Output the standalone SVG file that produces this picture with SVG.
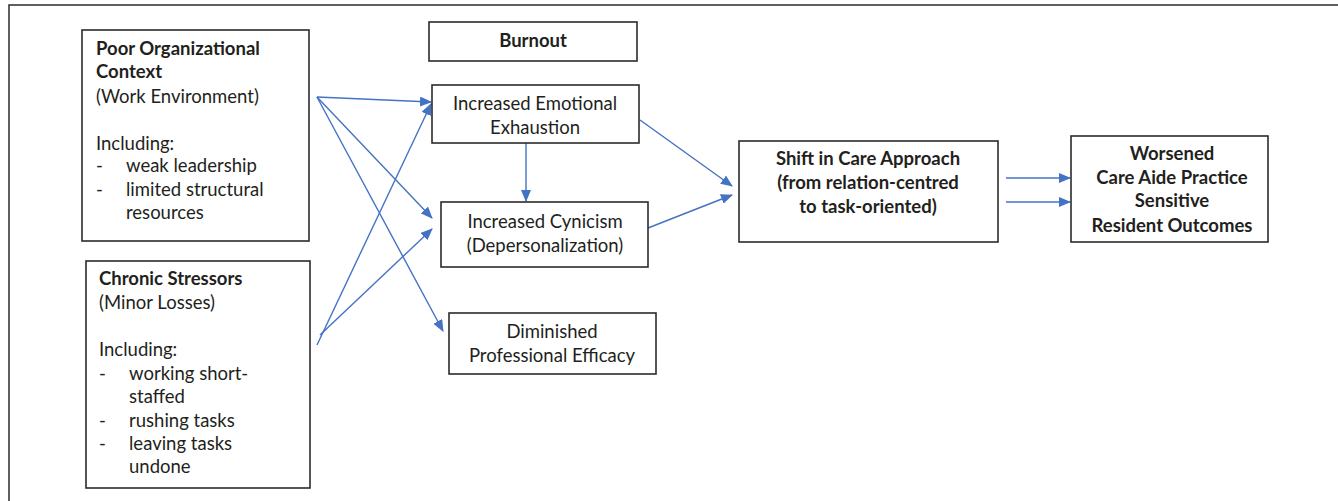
<svg xmlns="http://www.w3.org/2000/svg" width="1338" height="501" viewBox="0 0 1338 501">
<defs>
<marker id="ah" markerWidth="12" markerHeight="10" refX="11" refY="5" orient="auto" markerUnits="userSpaceOnUse">
<path d="M0,0 L12,5 L0,10 z" fill="#4472C4"/>
</marker>
<style>
.box{fill:#fff;stroke:#2b2b2b;stroke-width:1.6}
.t{font-family:Lato,"Open Sans","Liberation Sans",sans-serif;font-size:18.5px;fill:#231f20}
.b{font-weight:bold}
.c{text-anchor:middle}
.ln{stroke:#4472C4;stroke-width:1.4;fill:none}
.a{marker-end:url(#ah)}
</style>
</defs>
<rect width="1338" height="501" fill="#fff"/>
<path d="M9,501 V5 H1338" fill="none" stroke="#2b2b2b" stroke-width="1.5"/>

<g id="connectors">
<line class="ln a" x1="317" y1="97" x2="431" y2="102"/>
<line class="ln a" x1="317" y1="97" x2="432" y2="218"/>
<line class="ln a" x1="317" y1="97" x2="443" y2="331"/>
<line class="ln a" x1="317" y1="345" x2="431" y2="104"/>
<line class="ln a" x1="320" y1="335" x2="432" y2="229"/>
<line class="ln a" x1="526" y1="143" x2="526" y2="201"/>
<line class="ln a" x1="640" y1="120" x2="732" y2="186"/>
<line class="ln a" x1="648" y1="228" x2="732" y2="195"/>
<line class="ln a" x1="1006" y1="178" x2="1070" y2="178"/>
<line class="ln a" x1="1006" y1="202" x2="1070" y2="202"/>
</g>

<g id="poor-org">
<rect class="box" x="82" y="30" width="227" height="211"/>
<text class="t b" x="96" y="55">Poor Organizational</text>
<text class="t b" x="96" y="78">Context</text>
<text class="t" x="96" y="103">(Work Environment)</text>
<text class="t" x="96" y="150">Including:</text>
<text class="t" x="96" y="172">-</text><text class="t" x="126" y="172">weak leadership</text>
<text class="t" x="96" y="196">-</text><text class="t" x="126" y="196">limited structural</text>
<text class="t" x="126" y="219">resources</text>
</g>

<g id="chronic">
<rect class="box" x="86" y="261" width="224" height="227"/>
<text class="t b" x="99" y="285">Chronic Stressors</text>
<text class="t" x="99" y="309">(Minor Losses)</text>
<text class="t" x="99" y="356">Including:</text>
<text class="t" x="99" y="380">-</text><text class="t" x="129" y="380">working short-</text>
<text class="t" x="129" y="403">staffed</text>
<text class="t" x="99" y="427">-</text><text class="t" x="129" y="427">rushing tasks</text>
<text class="t" x="99" y="450">-</text><text class="t" x="129" y="450">leaving tasks</text>
<text class="t" x="129" y="473">undone</text>
</g>

<g id="burnout">
<rect class="box" x="429" y="22" width="208" height="39"/>
<text class="t b c" x="533" y="47">Burnout</text>
</g>

<g id="emotional">
<rect class="box" x="432" y="85" width="207" height="58"/>
<text class="t c" x="535" y="110">Increased Emotional</text>
<text class="t c" x="535" y="134">Exhaustion</text>
</g>

<g id="cynicism">
<rect class="box" x="441" y="202" width="207" height="65"/>
<text class="t c" x="545" y="228">Increased Cynicism</text>
<text class="t c" x="545" y="252">(Depersonalization)</text>
</g>

<g id="efficacy">
<rect class="box" x="449" y="313" width="207" height="61"/>
<text class="t c" x="552" y="338">Diminished</text>
<text class="t c" x="552" y="362">Professional Efficacy</text>
</g>

<g id="shift">
<rect class="box" x="739" y="141" width="259" height="101"/>
<text class="t b c" x="868" y="165">Shift in Care Approach</text>
<text class="t b c" x="868" y="189">(from relation-centred</text>
<text class="t b c" x="868" y="213">to task-oriented)</text>
</g>

<g id="worsened">
<rect class="box" x="1071" y="136" width="197" height="106"/>
<text class="t b c" x="1172" y="160">Worsened</text>
<text class="t b c" x="1172" y="184">Care Aide Practice</text>
<text class="t b c" x="1172" y="207">Sensitive</text>
<text class="t b c" x="1172" y="232">Resident Outcomes</text>
</g>
</svg>
